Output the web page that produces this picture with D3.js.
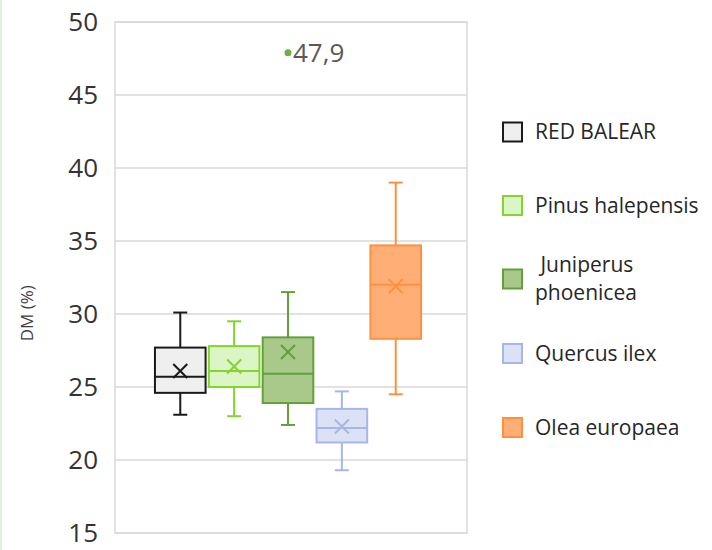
<!DOCTYPE html>
<html>
<head>
<meta charset="utf-8">
<script src="https://cdn.jsdelivr.net/npm/d3@7"></script>
<style>
  body { margin: 0; background: #fff; }
  svg { display: block; font-family: 'Open Sans', 'Noto Sans', sans-serif; }
</style>
</head>
<body>
<svg id="chart" width="712" height="550"></svg>
<script>
// series and their box statistics (DM %)
const series = ['RED BALEAR', 'Pinus halepensis', 'Juniperus phoenicea', 'Quercus ilex', 'Olea europaea']
const whiskerLow = [23.1, 23.0, 22.4, 19.3, 24.5]
const q1 = [24.6, 25.0, 23.9, 21.2, 28.3]
const median = [25.7, 26.1, 25.9, 22.2, 32.0]
const q3 = [27.7, 27.8, 28.4, 23.5, 34.7]
const whiskerHigh = [30.1, 29.5, 31.5, 24.7, 39.0]
const mean = [26.1, 26.4, 27.4, 22.3, 31.9]
const outliers = [[], [], [47.9], [], []]
const yTicks = [15, 20, 25, 30, 35, 40, 45, 50]

const fills = ['#efefef', '#dbf5c4', '#a9c98b', '#dce2f5', '#ffae76']
const strokes = ['#1a1a1a', '#82d42e', '#63a03a', '#a7b6e7', '#ff903f']

const svg = d3.select('#chart')
const margin = {top: 22, right: 245, bottom: 17, left: 115}
const width = 712 - margin.left - margin.right
const height = 550 - margin.top - margin.bottom
const fmt = d3.formatLocale({decimal: ',', thousands: '.', grouping: [3], currency: ['', '']}).format('.1f')

// thin green edge on the left of the picture
svg.append('line').attr('x1', 1).attr('x2', 1).attr('y1', 0).attr('y2', 550)
  .attr('stroke', '#e3f1d8').attr('stroke-width', 2)

const g = svg.append('g').attr('transform', 'translate(' + margin.left + ',' + margin.top + ')')

const y = d3.scaleLinear().domain([15, 50]).range([height, 0])
const x0 = d3.scaleBand().domain(['']).range([-3, width - 3]).padding(0.139)
const x1 = d3.scaleBand().domain(series).range([0, x0.bandwidth()]).paddingInner(0.06)

// grid + frame
g.selectAll('.grid').data(yTicks).enter().append('line')
  .attr('x1', 0).attr('x2', width)
  .attr('y1', d => y(d)).attr('y2', d => y(d))
  .attr('stroke', '#d9d9d9').attr('stroke-width', 1.5)
g.append('rect').attr('width', width).attr('height', height)
  .attr('fill', 'none').attr('stroke', '#d9d9d9').attr('stroke-width', 1.5)

const yAxis = g.append('g').call(d3.axisLeft(y).tickValues(yTicks).tickSize(0).tickPadding(17))
yAxis.select('.domain').remove()
yAxis.selectAll('text').style('font-size', '26px').style('fill', '#333')
  .style('font-family', "'Open Sans', sans-serif")

svg.append('text')
  .attr('transform', 'translate(33,' + (margin.top + height * 0.57) + ') rotate(-90)')
  .attr('text-anchor', 'middle')
  .attr('font-size', 17)
  .style('fill', '#404040')
  .text('DM (%)')

const boxes = g.append('g').attr('transform', 'translate(' + x0('') + ',0)')
series.forEach((s, i) => {
  const bx = x1(s)
  const bw = x1.bandwidth()
  const cx = bx + bw / 2
  const b = boxes.append('g')
  const col = strokes[i]
  // whiskers
  b.append('line').attr('x1', cx).attr('x2', cx).attr('y1', y(whiskerHigh[i])).attr('y2', y(q3[i]))
    .attr('stroke', col).attr('stroke-width', 2)
  b.append('line').attr('x1', cx).attr('x2', cx).attr('y1', y(q1[i])).attr('y2', y(whiskerLow[i]))
    .attr('stroke', col).attr('stroke-width', 2)
  ;[whiskerHigh[i], whiskerLow[i]].forEach(v => {
    b.append('line').attr('x1', cx - 7).attr('x2', cx + 7).attr('y1', y(v)).attr('y2', y(v))
      .attr('stroke', col).attr('stroke-width', 2)
  })
  b.append('rect').attr('x', bx).attr('width', bw)
    .attr('y', y(q3[i])).attr('height', y(q1[i]) - y(q3[i]))
    .attr('fill', fills[i]).attr('stroke', col).attr('stroke-width', 2)
  b.append('line').attr('x1', bx).attr('x2', bx + bw).attr('y1', y(median[i])).attr('y2', y(median[i]))
    .attr('stroke', col).attr('stroke-width', 2)
  // mean marker
  const my = y(mean[i])
  b.append('path').attr('d', 'M' + (cx - 7) + ',' + (my - 7) + 'L' + (cx + 7) + ',' + (my + 7) +
    'M' + (cx - 7) + ',' + (my + 7) + 'L' + (cx + 7) + ',' + (my - 7))
    .attr('stroke', col).attr('stroke-width', 2).attr('fill', 'none')
  outliers[i].forEach(v => {
    b.append('circle').attr('cx', cx).attr('cy', y(v)).attr('r', 3.5).attr('fill', '#6fae44')
    b.append('text').attr('x', cx + 5).attr('y', y(v)).attr('dy', '0.36em')
      .style('font-size', '26px').style('fill', '#595959').text(fmt(v))
  })
})

// legend
const legendY = [132, 205.5, 279, 353.5, 427.5]
const legendLines = [['RED BALEAR'], ['Pinus halepensis'], ['\u00a0Juniperus', 'phoenicea'], ['Quercus ilex'], ['Olea europaea']]
const legend = svg.append('g')
series.forEach((s, i) => {
  legend.append('rect').attr('x', 503).attr('y', legendY[i] - 9.5).attr('width', 19).attr('height', 19)
    .attr('fill', fills[i]).attr('stroke', strokes[i]).attr('stroke-width', 2)
  const lines = legendLines[i]
  const t = legend.append('text').attr('x', 535)
    .style('font-size', '21px').style('fill', '#262626')
  lines.forEach((ln, j) => {
    t.append('tspan').attr('x', 535)
      .attr('y', legendY[i] + (j - (lines.length - 1) / 2) * 28)
      .attr('dy', '0.35em').text(ln)
  })
})
</script>
</body>
</html>
